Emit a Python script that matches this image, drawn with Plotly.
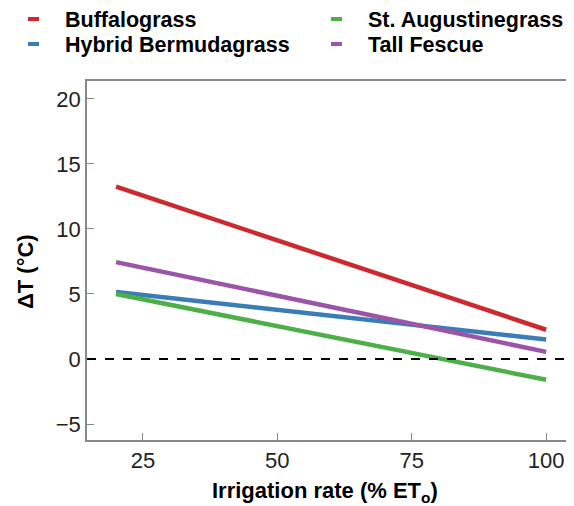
import plotly.graph_objects as go

species = ["Buffalograss", "St. Augustinegrass", "Hybrid Bermudagrass", "Tall Fescue"]
colors = ["#cc2a2e", "#4caf48", "#3a7db5", "#9b55a8"]
x_vals = [20, 100]
dT_start = [13.25, 5.0, 5.15, 7.45]
dT_end = [2.25, -1.6, 1.5, 0.55]
x_ticks = [25, 50, 75, 100]
y_ticks = [-5, 0, 5, 10, 15, 20]
y_ticktext = ["\u22125", "0", "5", "10", "15", "20"]

# the page body has an 8px margin: plot area in window px is x 87..572, y 81..440
PL, PR, PT, PB = 87, 572, 81, 440


def px(x):
    return (x - PL) / (PR - PL)


def py(y):
    return (PB - y) / (PB - PT)


fig = go.Figure()
draw_order = [2, 1, 3, 0]
for i in draw_order:
    fig.add_trace(go.Scatter(x=x_vals, y=[dT_start[i], dT_end[i]], mode="lines",
                             line=dict(color=colors[i], width=4.5), showlegend=False))

# zero reference line
fig.add_shape(type="line", xref="paper", yref="y", x0=0, x1=1, y0=0, y1=0,
              line=dict(color="black", width=2, dash="dash"))

# manual legend
col_x = [28, 331]
row_y = [20, 45]
for i, name in enumerate(species):
    c = i % 2
    r = i // 2
    fig.add_shape(type="line", xref="paper", yref="paper",
                  x0=px(col_x[c]), x1=px(col_x[c] + 11),
                  y0=py(row_y[r] - 1), y1=py(row_y[r] - 1),
                  line=dict(color=colors[i], width=4))
    fig.add_annotation(xref="paper", yref="paper", x=px(col_x[c] + 35),
                       y=py(row_y[r]), text="<b>" + name + "</b>",
                       showarrow=False, xanchor="left", yanchor="middle",
                       font=dict(size=21.5, color="black"))

# axis titles
fig.add_annotation(xref="paper", yref="paper", x=px(325), y=py(492),
                   text="<b>Irrigation rate (% ET<sub>o</sub>)</b>", showarrow=False,
                   xanchor="center", yanchor="middle", font=dict(size=22, color="black"))
fig.add_annotation(xref="paper", yref="paper", x=px(25), y=py(272),
                   text="<b>\u0394T (\u00b0C)</b>", showarrow=False, textangle=-90,
                   xanchor="center", yanchor="middle", font=dict(size=22, color="black"))

fig.update_layout(
    width=566, height=498,
    margin=dict(l=PL - 8, r=574 - PR - 2, t=PT - 8, b=498 - (PB - 8)),
    plot_bgcolor="white", paper_bgcolor="white",
    font=dict(family="Liberation Sans, Arial", color="black"),
    xaxis=dict(range=[14.6, 104.8], tickvals=x_ticks, ticks="inside", ticklen=7,
               tickcolor="#888", showgrid=False, zeroline=False,
               showline=True, linecolor="#888", linewidth=1.5, mirror=True,
               tickfont=dict(size=22, color="#222")),
    yaxis=dict(range=[-6.23, 21.38], tickvals=y_ticks, ticktext=y_ticktext,
               ticks="inside", ticklen=7,
               tickcolor="#888", showgrid=False, zeroline=False,
               showline=True, linecolor="#888", linewidth=1.5, mirror=True,
               tickfont=dict(size=22, color="#222")),
)

fig.write_html("out.html")
